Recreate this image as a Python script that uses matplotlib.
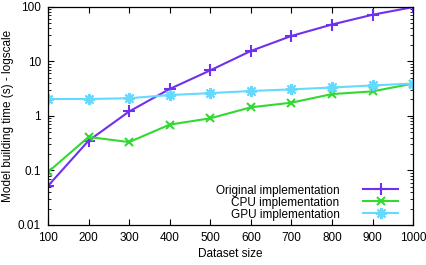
import numpy as np
import matplotlib
matplotlib.use("Agg")
import matplotlib.pyplot as plt
from matplotlib.ticker import FixedLocator, FuncFormatter, LogLocator, NullFormatter

plt.rcParams['font.family'] = ['Liberation Sans', 'DejaVu Sans']

# data
dataset_size = [100, 200, 300, 400, 500, 600, 700, 800, 900, 1000]
original = [0.052, 0.35, 1.2, 3.1, 6.8, 15.4, 29, 47, 71, 98]
cpu = [0.093, 0.41, 0.33, 0.69, 0.9, 1.43, 1.74, 2.5, 2.8, 3.9]
gpu = [2.03, 2.03, 2.1, 2.4, 2.6, 2.85, 3.05, 3.3, 3.6, 3.9]

labels = ["Original implementation", "CPU implementation", "GPU implementation"]
colors = ["#7030f0", "#33d933", "#66d9ff"]

fig = plt.figure(figsize=(4.27, 2.65), dpi=100)
ax = fig.add_axes([0.1124, 0.151, 0.855, 0.824])

ax.plot(dataset_size, original, color=colors[0], lw=1.5, marker='+', ms=8, mew=1.5, label=labels[0])
ax.plot(dataset_size, cpu, color=colors[1], lw=1.5, marker='x', ms=6, mew=1.5, label=labels[1])
ax.plot(dataset_size, gpu, color=colors[2], lw=1.5, marker=(8, 2, 0), ms=8, mew=1.5, label=labels[2])

ax.set_yscale('log')
ax.set_xlim(100, 1000)
ax.set_ylim(0.01, 100)
ax.xaxis.set_major_locator(FixedLocator(dataset_size))
ax.yaxis.set_major_locator(FixedLocator([0.01, 0.1, 1, 10, 100]))
ax.yaxis.set_major_formatter(FuncFormatter(lambda v, p: "%g" % v))
ax.yaxis.set_minor_locator(LogLocator(base=10, subs=np.arange(2, 10)))
ax.yaxis.set_minor_formatter(NullFormatter())

ax.tick_params(which='both', direction='in', top=True, right=True, labelsize=8.5, colors='black')
ax.tick_params(which='major', length=4, width=0.8, pad=5)
ax.tick_params(which='minor', length=2, width=0.6)
for s in ax.spines.values():
    s.set_linewidth(0.9)

ax.set_xlabel("Dataset size", fontsize=8.5, labelpad=3)
ax.set_ylabel("Model building time (s) - logscale", fontsize=8.5, labelpad=3)

ax.legend(loc='lower right', bbox_to_anchor=(0.96, 0.02), frameon=False, markerfirst=False,
          fontsize=8.5, handlelength=3.0, labelspacing=0.0, borderpad=0, borderaxespad=0,
          handletextpad=2.0)

fig.savefig("out.png", dpi=100)
